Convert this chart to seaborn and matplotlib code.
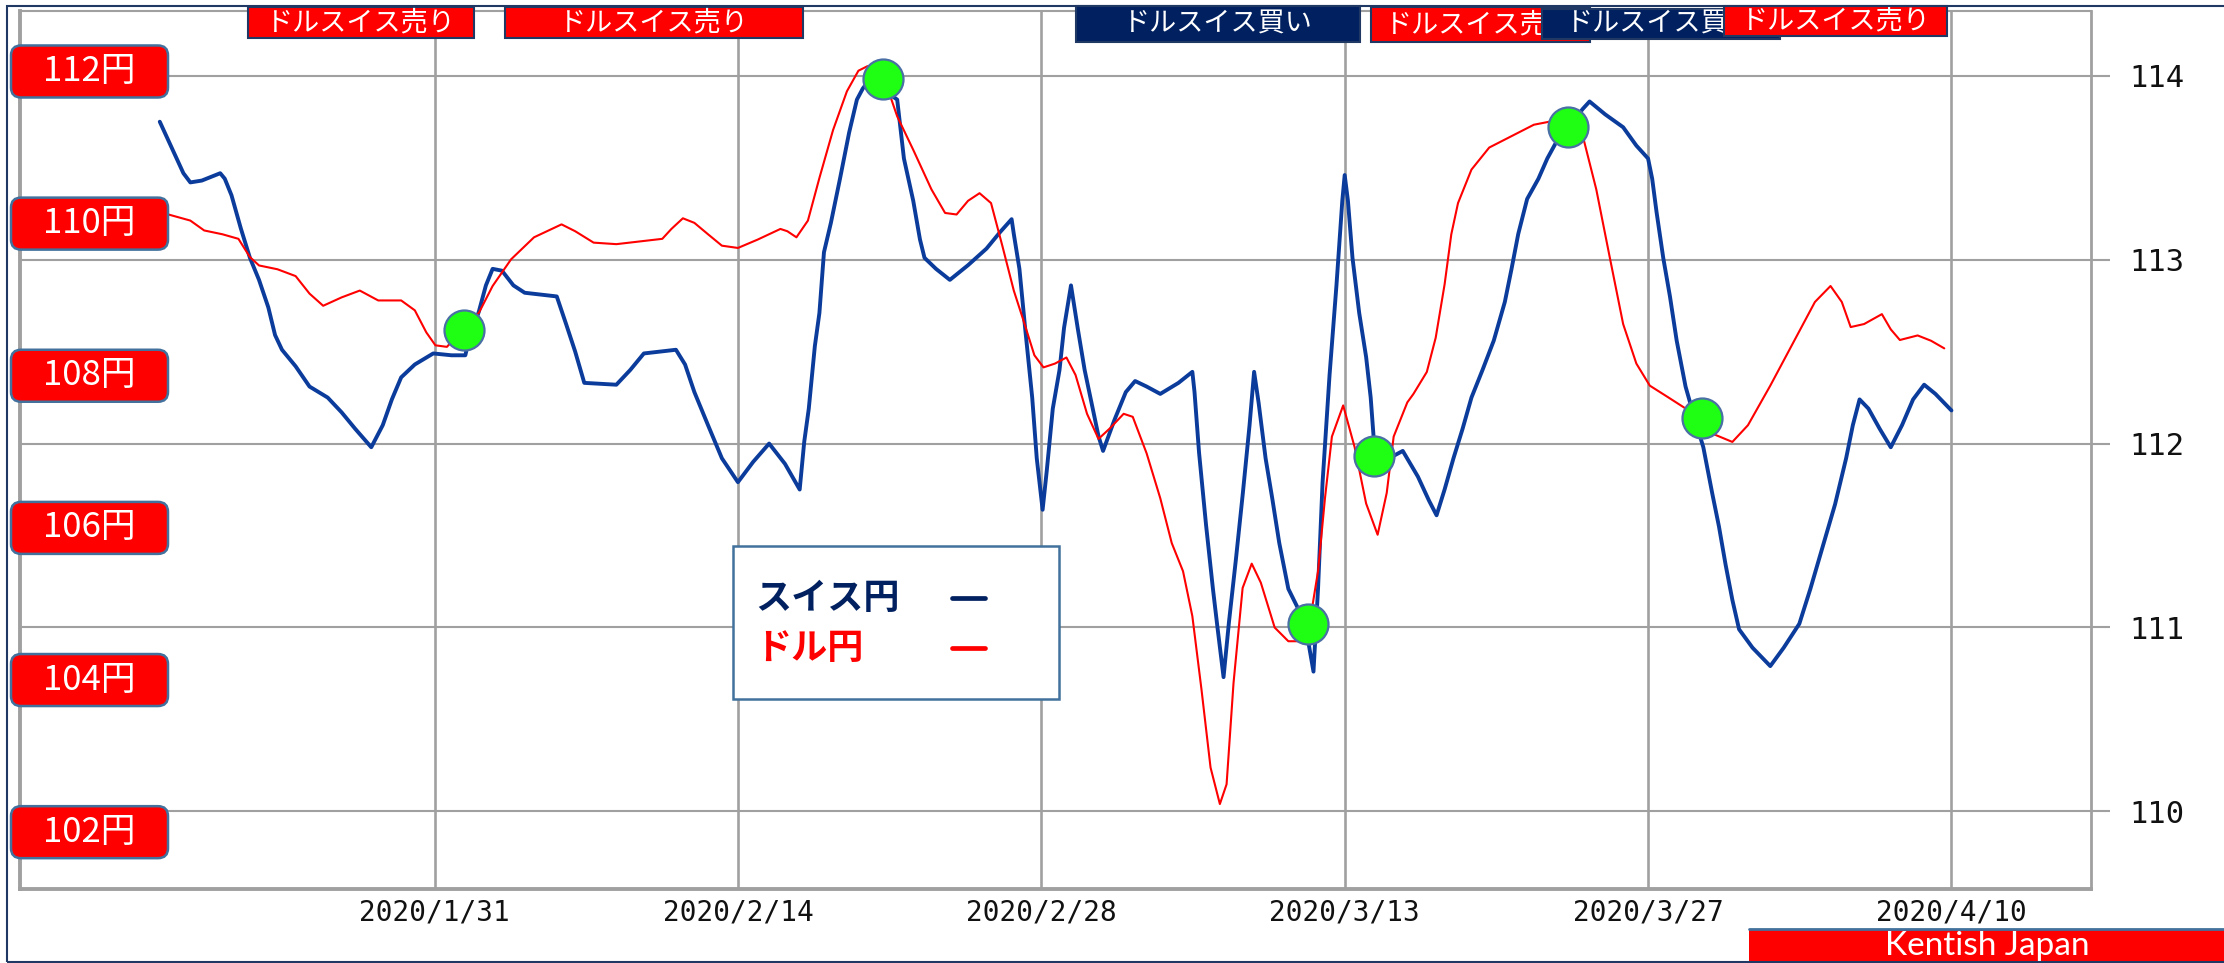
import matplotlib
matplotlib.use("Agg")
import numpy as np
import pandas as pd
import matplotlib.pyplot as plt
import matplotlib.dates as mdates
import matplotlib.transforms as mtransforms
from matplotlib.patches import FancyBboxPatch, Rectangle
from matplotlib.lines import Line2D
import seaborn as sns

sns.set_theme(style="white")
plt.rcParams["font.family"] = ["Noto Sans CJK JP", "DejaVu Sans"]

BASE = pd.Timestamp("2020-01-31")

# スイス円 (right axis), x = days from 2020/1/31
chf_days = [-12.68, -12.33, -11.59, -11.27, -10.74, -9.89, -9.68, -9.37, -8.94, -8.52,
            -8.10, -7.67, -7.36, -7.04, -6.41, -5.77, -4.93, -4.29, -3.66, -2.92,
            -2.39, -1.97, -1.54, -0.91, -0.06, 0.78, 1.42, 1.52, 2.05, 2.37,
            2.68, 3.11, 3.64, 4.16, 5.64, 6.07, 6.49, 6.91, 8.39, 9.03,
            9.66, 11.14, 11.56, 11.99, 12.62, 13.26, 14.00, 14.70, 15.44, 16.17,
            16.85, 17.06, 17.27, 17.55, 17.76, 17.97, 18.29, 18.71, 19.13, 19.49,
            19.76, 20.08, 21.35, 21.66, 22.09, 22.40, 22.61, 23.14, 23.78, 24.62,
            25.47, 26.10, 26.63, 26.73, 26.99, 27.26, 27.58, 27.79, 28.06, 28.25,
            28.53, 28.84, 29.05, 29.37, 29.69, 30.00, 30.32, 30.64, 30.85, 31.38,
            31.90, 32.33, 32.86, 33.49, 34.33, 34.97, 35.07, 35.28, 35.60, 35.92,
            36.13, 36.41, 36.66, 36.98, 37.30, 37.61, 37.82, 38.03, 38.35, 38.66,
            38.98, 39.40, 39.82, 40.25, 40.56, 40.77, 40.98, 41.30, 41.62, 41.89,
            42.00, 42.15, 42.36, 42.67, 42.99, 43.20, 43.37, 44.05, 44.68, 45.38,
            45.89, 46.24, 46.61, 47.02, 47.44, 47.85, 48.36, 48.88, 49.39, 49.70,
            50.01, 50.42, 50.94, 51.35, 51.86, 52.38, 52.99, 53.30, 54.02, 54.85,
            55.46, 56.00, 56.19, 56.39, 56.70, 57.01, 57.32, 57.73, 58.14, 58.55,
            58.96, 59.27, 59.58, 59.89, 60.20, 60.82, 61.64, 62.26, 62.98, 63.49,
            64.11, 64.63, 65.14, 65.45, 65.76, 66.17, 66.69, 67.20, 67.72, 68.23,
            68.74, 69.26, 70.00]
chf_vals = [113.75, 113.66, 113.47, 113.42, 113.43, 113.47, 113.44, 113.35, 113.17, 113.01,
            112.89, 112.74, 112.59, 112.51, 112.42, 112.31, 112.25, 112.17, 112.08, 111.98,
            112.10, 112.24, 112.36, 112.43, 112.49, 112.48, 112.48, 112.53, 112.72, 112.86,
            112.95, 112.94, 112.86, 112.82, 112.80, 112.65, 112.50, 112.33, 112.32, 112.40,
            112.49, 112.51, 112.43, 112.28, 112.10, 111.92, 111.79, 111.90, 112.00, 111.89,
            111.75, 112.01, 112.19, 112.53, 112.71, 113.04, 113.20, 113.44, 113.69, 113.87,
            113.93, 113.98, 113.87, 113.55, 113.32, 113.11, 113.01, 112.95, 112.89, 112.97,
            113.06, 113.15, 113.22, 113.14, 112.95, 112.62, 112.25, 111.92, 111.64, 111.85,
            112.19, 112.40, 112.63, 112.86, 112.62, 112.40, 112.22, 112.04, 111.96, 112.13,
            112.28, 112.34, 112.31, 112.27, 112.33, 112.39, 112.28, 111.95, 111.56, 111.21,
            111.00, 110.73, 111.03, 111.37, 111.73, 112.10, 112.39, 112.22, 111.92, 111.70,
            111.46, 111.21, 111.11, 110.97, 110.76, 111.21, 111.79, 112.37, 112.86, 113.32,
            113.46, 113.32, 113.01, 112.71, 112.47, 112.25, 111.98, 111.92, 111.96, 111.82,
            111.69, 111.61, 111.75, 111.92, 112.08, 112.25, 112.40, 112.56, 112.77, 112.95,
            113.14, 113.33, 113.44, 113.55, 113.66, 113.73, 113.82, 113.86, 113.79, 113.72,
            113.62, 113.55, 113.44, 113.26, 113.01, 112.80, 112.56, 112.31, 112.14, 111.98,
            111.73, 111.55, 111.34, 111.15, 110.99, 110.89, 110.79, 110.89, 111.02, 111.21,
            111.46, 111.67, 111.92, 112.10, 112.24, 112.19, 112.08, 111.98, 112.10, 112.24,
            112.32, 112.27, 112.18]

# ドル円 (left axis)
usd_days = [-12.28, -11.27, -10.63, -9.79, -9.05, -8.52, -8.10, -7.25, -6.41, -5.77,
            -5.14, -4.29, -3.45, -2.60, -1.54, -0.91, -0.38, 0.04, 0.57, 2.05,
            2.68, 3.53, 4.59, 5.86, 6.49, 7.34, 8.39, 10.51, 10.93, 11.46,
            11.99, 12.62, 13.26, 14.00, 14.91, 15.96, 16.28, 16.70, 17.23, 17.76,
            18.39, 19.03, 19.56, 19.98, 20.82, 21.35, 22.09, 22.93, 23.56, 24.09,
            24.62, 25.15, 25.68, 26.20, 26.73, 27.15, 27.68, 28.10, 28.63, 29.16,
            29.58, 30.11, 30.64, 31.17, 31.80, 32.22, 32.86, 33.49, 34.02, 34.54,
            34.97, 35.39, 35.81, 36.24, 36.55, 36.87, 37.29, 37.71, 38.13, 38.77,
            39.40, 39.93, 40.35, 40.77, 41.09, 41.41, 41.93, 42.46, 42.99, 43.52,
            43.94, 44.26, 44.89, 45.17, 45.79, 46.20, 46.61, 46.92, 47.23, 47.85,
            48.67, 49.70, 50.73, 51.45, 52.99, 53.61, 54.23, 54.85, 55.46, 56.08,
            56.91, 57.73, 58.96, 59.89, 60.61, 61.64, 62.67, 63.70, 64.42, 64.94,
            65.35, 65.97, 66.79, 67.20, 67.62, 68.44, 69.06, 69.67]
usd_vals = [110.12, 110.04, 109.91, 109.86, 109.80, 109.56, 109.45, 109.40, 109.31, 109.08,
            108.92, 109.03, 109.12, 108.99, 108.99, 108.86, 108.57, 108.40, 108.38, 108.83,
            109.18, 109.53, 109.82, 109.99, 109.90, 109.75, 109.73, 109.80, 109.93, 110.07,
            110.01, 109.86, 109.71, 109.68, 109.79, 109.93, 109.90, 109.82, 110.04, 110.60,
            111.23, 111.74, 112.01, 112.07, 111.85, 111.41, 110.97, 110.45, 110.14, 110.12,
            110.30, 110.40, 110.27, 109.71, 109.12, 108.75, 108.27, 108.11, 108.16, 108.24,
            108.01, 107.50, 107.17, 107.31, 107.50, 107.46, 106.98, 106.39, 105.80, 105.43,
            104.84, 103.88, 102.85, 102.37, 102.63, 103.96, 105.21, 105.53, 105.28, 104.69,
            104.51, 104.51, 104.69, 105.43, 106.39, 107.20, 107.61, 107.06, 106.32, 105.91,
            106.46, 107.20, 107.65, 107.76, 108.05, 108.50, 109.20, 109.86, 110.27, 110.71,
            111.00, 111.15, 111.30, 111.34, 111.15, 110.45, 109.56, 108.68, 108.16, 107.87,
            107.72, 107.57, 107.24, 107.13, 107.35, 107.87, 108.42, 108.97, 109.18, 108.97,
            108.64, 108.68, 108.81, 108.61, 108.47, 108.53, 108.46, 108.36]

# crossover markers (on スイス円 scale)
cross_days = [1.35, 20.71, 40.31, 43.37, 52.31, 58.49]
cross_vals = [112.62, 113.98, 111.02, 111.93, 113.72, 112.14]

x_tick_days = [0, 14, 28, 42, 56, 70]
x_tick_labels = ["2020/1/31", "2020/2/14", "2020/2/28", "2020/3/13", "2020/3/27", "2020/4/10"]
right_ticks = [110, 111, 112, 113, 114]
left_ticks = [112, 110, 108, 106, 104, 102]
left_labels = ["112円", "110円", "108円", "106円", "104円", "102円"]

signal_labels = ["ドルスイス売り", "ドルスイス売り", "ドルスイス買い",
                 "ドルスイス売り", "ドルスイス買い", "ドルスイス売り"]
signal_start = [-8.6, 3.25, 29.6, 43.2, 51.1, 59.5]
signal_end = [1.8, 17.0, 42.7, 53.3, 62.1, 69.8]

legend_labels = ["スイス円", "ドル円"]
footer_text = "Kentish Japan"

NAVY = "#002060"
BLUE = "#0B3C9C"
RED = "#FF0000"
GRID = "#A0A0A0"
STEEL = "#41719C"

W, H = 2224, 963
fig = plt.figure(figsize=(W / 100, H / 100), dpi=100)
fig.patch.set_facecolor("white")
ax = fig.add_axes([20 / W, 1 - 889 / H, (2091 - 20) / W, (889 - 11) / H])
ax_red = ax.twinx()
ax_dot = ax.twinx()


def to_dt(days):
    return BASE + pd.to_timedelta(np.asarray(days, dtype=float), unit="D")


chf = pd.DataFrame({"date": to_dt(chf_days), "val": chf_vals})
usd = pd.DataFrame({"date": to_dt(usd_days), "val": usd_vals})
cross = pd.DataFrame({"date": to_dt(cross_days), "val": cross_vals})

sns.lineplot(data=chf, x="date", y="val", ax=ax, color=BLUE, lw=2.8,
             legend=False, zorder=3)
sns.lineplot(data=usd, x="date", y="val", ax=ax_red, color=RED, lw=1.5, legend=False)
sns.scatterplot(data=cross, x="date", y="val", ax=ax_dot, s=830, color="#1EFF14",
                edgecolor="#4A6FA5", linewidth=1.6, legend=False, zorder=5)

ax.set_xlim(BASE + pd.Timedelta(days=-19.13), BASE + pd.Timedelta(days=76.44))
ax.set_ylim(109.578, 114.352)
ax_dot.set_ylim(109.578, 114.352)
ax_red.set_ylim(101.253, 112.795)

for a in (ax, ax_red, ax_dot):
    a.set_xlabel("")
    a.set_ylabel("")
for a in (ax_red, ax_dot):
    a.set_yticks([])
    for s in a.spines.values():
        s.set_visible(False)
    a.grid(False)

ax.set_xticks(to_dt(x_tick_days))
ax.set_xticklabels(x_tick_labels)
ax.yaxis.tick_right()
ax.set_yticks(right_ticks)
ax.set_yticklabels([str(v) for v in right_ticks])
ax.tick_params(axis="x", length=0, pad=6.5, labelsize=20, labelcolor="#111111")
ax.tick_params(axis="y", left=False, right=True, labelleft=False, labelright=True,
               length=13.7, width=1.5, color=GRID, pad=14, labelsize=22,
               labelcolor="#111111")
for t in ax.get_xticklabels() + ax.get_yticklabels():
    t.set_fontfamily("DejaVu Sans Mono")

ax.grid(False)
ax.xaxis.grid(True, color=GRID, lw=1.9)
ax.yaxis.grid(True, color=GRID, lw=1.5)
ax.set_axisbelow(True)
ax.spines["left"].set(color=GRID, lw=2.8)
ax.spines["bottom"].set(color=GRID, lw=2.8)
ax.spines["right"].set(color=GRID, lw=2.0)
ax.spines["top"].set(color=GRID, lw=1.5)

IDT = mtransforms.IdentityTransform()

# left yen label boxes, positioned via the ドル円 axis scale
x_ref = ax_red.get_xlim()[0]
for v, lab in zip(left_ticks, left_labels):
    y_px = ax_red.transData.transform((x_ref, v))[1]
    box = FancyBboxPatch((11, y_px - 26), 157, 52,
                         boxstyle="round,pad=0,rounding_size=10",
                         transform=IDT, fc=RED, ec=STEEL, lw=1.8, zorder=20)
    fig.add_artist(box)
    fig.text(89.5, y_px, lab, transform=IDT, ha="center", va="center",
             color="white", fontsize=25, zorder=21)

# signal banners along the top
btrans = mtransforms.blended_transform_factory(ax.transData, IDT)
tops = [7, 7, 6, 7, 9, 6]
heights = [31, 31, 36, 35, 30, 30]
for i, (lab, s, e) in enumerate(zip(signal_labels, signal_start, signal_end)):
    x0 = mdates.date2num(BASE + pd.Timedelta(days=s))
    x1 = mdates.date2num(BASE + pd.Timedelta(days=e))
    y0 = H - tops[i] - heights[i]
    fc = NAVY if lab.endswith("買い") else RED
    rect = Rectangle((x0, y0), x1 - x0, heights[i], transform=btrans,
                     fc=fc, ec="#1F3864", lw=1.5, zorder=10 + 2 * i)
    fig.add_artist(rect)
    fig.text((x0 + x1) / 2, y0 + heights[i] / 2, lab, transform=btrans,
             ha="center", va="center", color="white", fontsize=19.5,
             zorder=11 + 2 * i)

# legend box
fig.add_artist(Rectangle((733, H - 699), 326, 153, transform=IDT, fc="white",
                         ec=STEEL, lw=1.8, zorder=30))
leg_colors = [NAVY, RED]
leg_y = [H - 598, H - 648]
for lab, c, yy in zip(legend_labels, leg_colors, leg_y):
    fig.text(755, yy, lab, transform=IDT, ha="left", va="center", color=c,
             fontsize=26, fontweight="bold", zorder=31)
    fig.add_artist(Line2D([952, 985], [yy, yy], transform=IDT, color=c,
                          lw=3.4, zorder=31))

# footer
fig.add_artist(Rectangle((1749, 0), W - 1749, 34, transform=IDT, fc=RED,
                         ec="none", zorder=40))
fig.add_artist(Line2D([1749, W], [34, 34], transform=IDT, color=STEEL, lw=2,
                      zorder=41))
fig.text(1987, 8, footer_text, transform=IDT, ha="center", va="baseline",
         color="white", fontsize=24, family="Lato", zorder=42)

# outer frame
fig.add_artist(Rectangle((7, 1), W + 10, H - 7, transform=IDT, fill=False,
                         ec="#203864", lw=1.5, zorder=50))

fig.savefig("out.png", dpi=100)
